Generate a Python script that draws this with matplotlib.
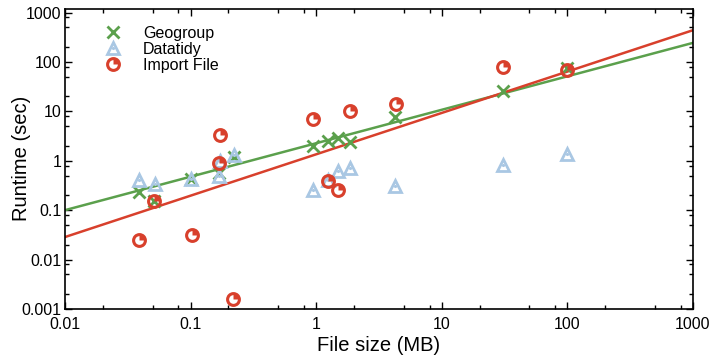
import matplotlib
matplotlib.use("Agg")
import matplotlib.pyplot as plt
from matplotlib.path import Path
from matplotlib.ticker import LogLocator, FixedLocator, NullFormatter, FixedFormatter
from matplotlib.legend_handler import HandlerTuple
import numpy as np

plt.rcParams['font.family'] = ['Liberation Sans', 'DejaVu Sans']

# Geogroup runtimes (MB, sec)
geo_size = [0.039, 0.0515, 0.10, 0.169, 0.22, 0.94, 1.24, 1.50, 1.87, 4.26, 31, 99]
geo_time = [0.228, 0.155, 0.43, 0.57, 1.19, 1.95, 2.46, 2.88, 2.35, 7.67, 25.3, 75]

# Datatidy runtimes
tidy_size = [0.039, 0.052, 0.10, 0.167, 0.17, 0.22, 0.95, 1.24, 1.50, 1.87, 4.26, 31, 99]
tidy_time = [0.41, 0.34, 0.43, 0.48, 1.0, 1.32, 0.26, 0.40, 0.63, 0.71, 0.31, 0.83, 1.39]

# Import File runtimes
imp_size = [0.039, 0.0515, 0.102, 0.167, 0.172, 0.217, 0.95, 1.24, 1.50, 1.87, 4.33, 31, 99]
imp_time = [0.025, 0.155, 0.032, 0.92, 3.36, 0.0016, 7.0, 0.38, 0.26, 9.95, 14.3, 79, 69.5]

# power-law fits: log10(y) = a + b*log10(x)
geo_fit = (0.354, 0.677)
imp_fit = (0.130, 0.837)

GREEN = '#5ba04c'
BLUE = '#a9c7e3'
RED = '#d8402c'

# quarter-pie marker for "Import File"
theta = np.linspace(np.pi / 2, 0, 12)
wedge_verts = [(0, 0)] + [(np.cos(t), np.sin(t)) for t in theta] + [(0, 0)]
wedge_verts += [(-1, -1), (-1, -1)]  # invisible points to keep wedge centred in its box
wedge_codes = [Path.MOVETO] + [Path.LINETO] * (len(theta)) + [Path.CLOSEPOLY, Path.MOVETO, Path.MOVETO]
wedge = Path(wedge_verts, wedge_codes)

fig = plt.figure(figsize=(7.15, 3.58), dpi=100)
ax = fig.add_axes([0.091, 0.137, 0.878, 0.839])

# regression lines
xx = np.array([0.01, 1000])
ax.plot(xx, 10 ** (geo_fit[0] + geo_fit[1] * np.log10(xx)), color=GREEN, lw=1.8, zorder=2)
ax.plot(xx, 10 ** (imp_fit[0] + imp_fit[1] * np.log10(xx)), color=RED, lw=1.8, zorder=2)

g, = ax.plot(geo_size, geo_time, 'x', color=GREEN, ms=8, mew=2, zorder=3)
t1, = ax.plot(tidy_size, tidy_time, '^', mfc='none', mec=BLUE, ms=9, mew=2, zorder=3)
t2, = ax.plot(tidy_size, tidy_time, '.', color=BLUE, ms=2.5, zorder=3)
r1, = ax.plot(imp_size, imp_time, 'o', mfc='none', mec=RED, ms=8.5, mew=2.2, zorder=4)
r2, = ax.plot(imp_size, imp_time, marker=wedge, ls='none', color=RED, ms=8.5, mew=0, zorder=4)

ax.set_xscale('log')
ax.set_yscale('log')
ax.set_xlim(0.01, 1000)
ax.set_ylim(0.001, 1200)

xt = [0.01, 0.1, 1, 10, 100, 1000]
yt = [0.001, 0.01, 0.1, 1, 10, 100, 1000]
ax.xaxis.set_major_locator(FixedLocator(xt))
ax.xaxis.set_major_formatter(FixedFormatter(['0.01', '0.1', '1', '10', '100', '1000']))
ax.yaxis.set_major_locator(FixedLocator(yt))
ax.yaxis.set_major_formatter(FixedFormatter(['0.001', '0.01', '0.1', '1', '10', '100', '1000']))
for axis in (ax.xaxis, ax.yaxis):
    axis.set_minor_locator(LogLocator(base=10, subs=[2, 5, 8]))
    axis.set_minor_formatter(NullFormatter())

ax.tick_params(which='both', direction='in', top=True, right=True, labelsize=11.5)
ax.tick_params(which='major', length=5, width=1)
ax.tick_params(which='minor', length=3, width=1)
ax.tick_params(axis='x', which='major', pad=6)
ax.tick_params(axis='y', which='major', pad=2.5)
for s in ax.spines.values():
    s.set_linewidth(1.2)

ax.set_xlabel('File size (MB)', fontsize=14.5, labelpad=3)
ax.set_ylabel('Runtime (sec)', fontsize=14.5, labelpad=-7)

ax.legend([g, (t1, t2), (r1, r2)], ['Geogroup', 'Datatidy', 'Import File'],
          handler_map={tuple: HandlerTuple(ndivide=1)},
          loc='upper left', bbox_to_anchor=(0.035, 0.99), frameon=False,
          fontsize=11.5, handlelength=1.5, handletextpad=1.1, labelspacing=0.05)

fig.savefig('out.png', dpi=100)
